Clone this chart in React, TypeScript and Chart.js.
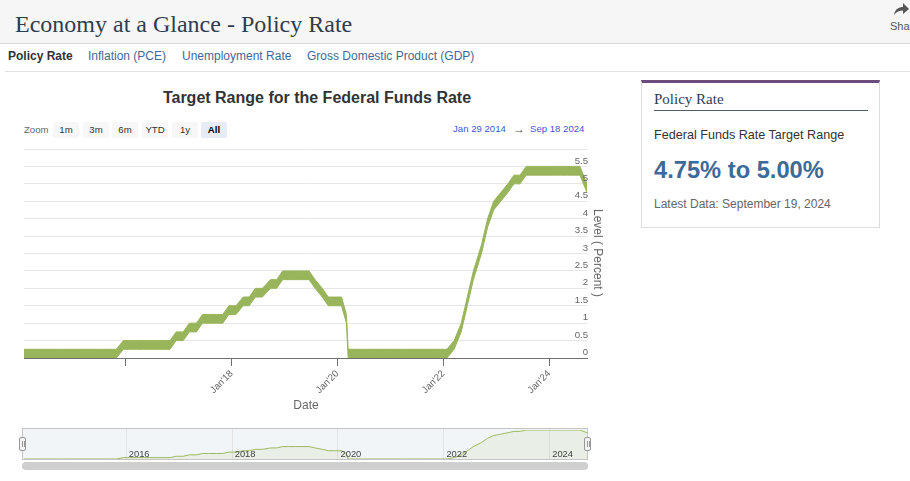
import React, { useEffect, useRef } from 'react';
import { Chart, registerables } from 'chart.js';

Chart.register(...registerables);

// FOMC decision dates shown in the chart (Jan 29 2014 -> Sep 18 2024)
const meetingDates = [
  '2014-01-29', '2014-03-19', '2014-04-30', '2014-06-18', '2014-07-30', '2014-09-17', '2014-10-29', '2014-12-17',
  '2015-01-28', '2015-03-18', '2015-04-29', '2015-06-17', '2015-07-29', '2015-09-17', '2015-10-28', '2015-12-16',
  '2016-01-27', '2016-03-16', '2016-04-27', '2016-06-15', '2016-07-27', '2016-09-21', '2016-11-02', '2016-12-14',
  '2017-02-01', '2017-03-15', '2017-05-03', '2017-06-14', '2017-07-26', '2017-09-20', '2017-11-01', '2017-12-13',
  '2018-01-31', '2018-03-21', '2018-05-02', '2018-06-13', '2018-08-01', '2018-09-26', '2018-11-08', '2018-12-19',
  '2019-01-30', '2019-03-20', '2019-05-01', '2019-06-19', '2019-07-31', '2019-09-18', '2019-10-30', '2019-12-11',
  '2020-01-29', '2020-03-03', '2020-03-15', '2020-04-29', '2020-06-10', '2020-07-29', '2020-09-16', '2020-11-05', '2020-12-16',
  '2021-01-27', '2021-03-17', '2021-04-28', '2021-06-16', '2021-07-28', '2021-09-22', '2021-11-03', '2021-12-15',
  '2022-01-26', '2022-03-16', '2022-05-04', '2022-06-15', '2022-07-27', '2022-09-21', '2022-11-02', '2022-12-14',
  '2023-02-01', '2023-03-22', '2023-05-03', '2023-06-14', '2023-07-26', '2023-09-20', '2023-11-01', '2023-12-13',
  '2024-01-31', '2024-03-20', '2024-05-01', '2024-06-12', '2024-07-31', '2024-09-18',
];

const lowerBound = [
  0, 0, 0, 0, 0, 0, 0, 0,
  0, 0, 0, 0, 0, 0, 0, 0.25,
  0.25, 0.25, 0.25, 0.25, 0.25, 0.25, 0.25, 0.5,
  0.5, 0.75, 0.75, 1, 1, 1, 1, 1.25,
  1.25, 1.5, 1.5, 1.75, 1.75, 2, 2, 2.25,
  2.25, 2.25, 2.25, 2.25, 2, 1.75, 1.5, 1.5,
  1.5, 1, 0, 0, 0, 0, 0, 0, 0,
  0, 0, 0, 0, 0, 0, 0, 0,
  0, 0.25, 0.75, 1.5, 2.25, 3, 3.75, 4.25,
  4.5, 4.75, 5, 5, 5.25, 5.25, 5.25, 5.25,
  5.25, 5.25, 5.25, 5.25, 5.25, 4.75,
];

const upperBound = [
  0.25, 0.25, 0.25, 0.25, 0.25, 0.25, 0.25, 0.25,
  0.25, 0.25, 0.25, 0.25, 0.25, 0.25, 0.25, 0.5,
  0.5, 0.5, 0.5, 0.5, 0.5, 0.5, 0.5, 0.75,
  0.75, 1, 1, 1.25, 1.25, 1.25, 1.25, 1.5,
  1.5, 1.75, 1.75, 2, 2, 2.25, 2.25, 2.5,
  2.5, 2.5, 2.5, 2.5, 2.25, 2, 1.75, 1.75,
  1.75, 1.25, 0.25, 0.25, 0.25, 0.25, 0.25, 0.25, 0.25,
  0.25, 0.25, 0.25, 0.25, 0.25, 0.25, 0.25, 0.25,
  0.25, 0.5, 1, 1.75, 2.5, 3.25, 4, 4.5,
  4.75, 5, 5.25, 5.25, 5.5, 5.5, 5.5, 5.5,
  5.5, 5.5, 5.5, 5.5, 5.5, 5,
];

const rangeStart = '2014-01-29';
const rangeEnd = '2024-09-18';

const xTickDates = ['2016-01-01', '2018-01-01', '2020-01-01', '2022-01-01', '2024-01-01'];
const xTickLabels = ['', "Jan'18", "Jan'20", "Jan'22", "Jan'24"];
const navigatorLabels = ['2016', '2018', '2020', '2022', '2024'];

const yGridValues = [0, 0.5, 1, 1.5, 2, 2.5, 3, 3.5, 4, 4.5, 5, 5.5, 6];
const yTickValues = [0, 0.5, 1, 1.5, 2, 2.5, 3, 3.5, 4, 4.5, 5, 5.5];
const yTickLabels = ['0', '0.5', '1', '1.5', '2', '2.5', '3', '3.5', '4', '4.5', '5', '5.5'];

const zoomButtons = ['1m', '3m', '6m', 'YTD', '1y', 'All'];
const tabs = ['Policy Rate', 'Inflation (PCE)', 'Unemployment Rate', 'Gross Domestic Product (GDP)'];

const SANS = '"Liberation Sans", Arial, sans-serif';
const SERIF = '"Liberation Serif", "Times New Roman", serif';
const GREEN = '#99b55b';

const toMs = (s: string) => {
  const [y, m, d] = s.split('-').map(Number);
  return Date.UTC(y, m - 1, d);
};

const yLabelPlugin = {
  id: 'yLabels',
  afterDatasetsDraw(chart: any) {
    const { ctx, chartArea, scales } = chart;
    const y = scales.y;
    ctx.save();
    ctx.font = `9.6px ${SANS}`;
    ctx.fillStyle = '#666666';
    ctx.textAlign = 'right';
    ctx.textBaseline = 'middle';
    yTickValues.forEach((v, i) => {
      ctx.fillText(yTickLabels[i], chartArea.right + 1, y.getPixelForValue(v) - 5.5);
    });
    ctx.restore();
  },
};

const navPlugin = {
  id: 'navGrid',
  beforeDatasetsDraw(chart: any) {
    const { ctx, scales, height } = chart;
    const x = scales.x;
    ctx.save();
    ctx.strokeStyle = '#e3e3e3';
    ctx.lineWidth = 1;
    xTickDates.forEach((d) => {
      const px = Math.round(x.getPixelForValue(toMs(d))) + 0.5;
      ctx.beginPath();
      ctx.moveTo(px, 1);
      ctx.lineTo(px, height - 1);
      ctx.stroke();
    });
    ctx.restore();
  },
  afterDatasetsDraw(chart: any) {
    const { ctx, scales } = chart;
    const x = scales.x;
    ctx.save();
    ctx.font = `9.4px ${SANS}`;
    ctx.fillStyle = '#444444';
    ctx.textAlign = 'left';
    ctx.textBaseline = 'alphabetic';
    xTickDates.forEach((d, i) => {
      ctx.fillText(navigatorLabels[i], x.getPixelForValue(toMs(d)) + 3, 29);
    });
    ctx.restore();
  },
};

export default function App() {
  const mainRef = useRef<HTMLCanvasElement | null>(null);
  const navRef = useRef<HTMLCanvasElement | null>(null);

  useEffect(() => {
    const lowerPts = meetingDates.map((d, i) => ({ x: toMs(d), y: lowerBound[i] }));
    const upperPts = meetingDates.map((d, i) => ({ x: toMs(d), y: upperBound[i] }));
    const xMin = toMs(rangeStart);
    const xMax = toMs(rangeEnd);

    const main = new Chart(mainRef.current as HTMLCanvasElement, {
      type: 'line',
      data: {
        datasets: [
          { data: lowerPts, borderColor: GREEN, borderWidth: 1, pointRadius: 0, fill: false, tension: 0 },
          { data: upperPts, borderColor: GREEN, backgroundColor: GREEN, borderWidth: 1, pointRadius: 0, fill: '-1', tension: 0 },
        ],
      },
      options: {
        animation: false,
        responsive: false,
        events: [],
        layout: { padding: { left: 24, right: 33, top: 9, bottom: 0 } },
        plugins: { legend: { display: false }, tooltip: { enabled: false }, title: { display: false } },
        scales: {
          x: {
            type: 'linear',
            min: xMin,
            max: xMax,
            afterBuildTicks: (s: any) => {
              s.ticks = xTickDates.map((d) => ({ value: toMs(d) }));
            },
            afterFit: (s: any) => {
              s.height = 62;
            },
            ticks: {
              autoSkip: false,
              minRotation: 45,
              maxRotation: 45,
              padding: 2,
              color: '#666666',
              font: { family: SANS, size: 9.6 },
              callback: (_v: any, i: number) => xTickLabels[i],
            },
            grid: { drawOnChartArea: false, drawTicks: true, tickLength: 8, color: '#707070' },
            border: { display: true, color: '#707070' },
          },
          y: {
            type: 'linear',
            position: 'right',
            min: 0,
            max: 6,
            afterBuildTicks: (s: any) => {
              s.ticks = yGridValues.map((v) => ({ value: v }));
            },
            ticks: { display: false },
            grid: {
              drawTicks: false,
              color: (c: any) => (c.tick && c.tick.value === 0 ? 'rgba(0,0,0,0)' : '#e6e6e6'),
            },
            border: { display: false },
          },
        },
      },
      plugins: [yLabelPlugin],
    });

    const nav = new Chart(navRef.current as HTMLCanvasElement, {
      type: 'line',
      data: {
        datasets: [
          {
            data: upperPts,
            borderColor: '#9dba62',
            backgroundColor: 'rgba(153,181,91,0.10)',
            borderWidth: 1,
            pointRadius: 0,
            fill: 'start',
            tension: 0,
          },
        ],
      },
      options: {
        animation: false,
        responsive: false,
        events: [],
        layout: { padding: { left: 24, right: 33, top: 2, bottom: 1 } },
        plugins: { legend: { display: false }, tooltip: { enabled: false } },
        scales: {
          x: { type: 'linear', display: false, min: xMin, max: xMax },
          y: { type: 'linear', display: false, min: 0.25, max: 5.5 },
        },
      },
      plugins: [navPlugin],
    });

    return () => {
      main.destroy();
      nav.destroy();
    };
  }, []);

  const abs = (s: any): any => ({ position: 'absolute', whiteSpace: 'nowrap', ...s });
  const tabX = [8, 88, 182, 307];
  const btnX = [53, 83, 112, 142, 172, 201];

  return (
    <div style={{ position: 'absolute', left: 0, top: 0, width: 910, height: 481, overflow: 'hidden', background: '#ffffff', fontFamily: SANS }}>
      {/* header */}
      <div style={abs({ left: 0, top: 0, width: 910, height: 43, background: '#f6f6f6', borderBottom: '1px solid #d9d9d9' })} />
      <div style={abs({ left: 15, top: 12, fontFamily: SERIF, fontSize: 24, lineHeight: '24px', color: '#2e3d4f' })}>
        Economy at a Glance - Policy Rate
      </div>
      <svg style={{ position: 'absolute', left: 893, top: 2 }} width="16" height="14" viewBox="0 0 16 14">
        <path d="M1 13 C2 7 6 5 10 5 L10 1 L16 7 L10 12 L10 8.5 C6 8.5 3 10 1 13 Z" fill="#555" />
      </svg>
      <div style={abs({ left: 890, top: 20, fontSize: 11, lineHeight: '12px', color: '#555' })}>Share</div>

      {/* tabs */}
      {tabs.map((t, i) => (
        <div
          key={t}
          style={abs({
            left: tabX[i],
            top: 50,
            fontSize: 12,
            lineHeight: '12px',
            fontWeight: i === 0 ? 'bold' : 'normal',
            color: i === 0 ? '#333333' : '#3f6a96',
          })}
        >
          {t}
        </div>
      ))}
      <div style={abs({ left: 5, top: 71, width: 905, height: 1, background: '#e2e2e2' })} />

      {/* chart title */}
      <div style={abs({ left: 0, top: 90, width: 634, textAlign: 'center', fontSize: 16, lineHeight: '16px', fontWeight: 'bold', color: '#333333' })}>
        Target Range for the Federal Funds Rate
      </div>

      {/* range selector */}
      <div style={abs({ left: 24, top: 125, fontSize: 9.6, lineHeight: '10px', color: '#666666' })}>Zoom</div>
      {zoomButtons.map((b, i) => (
        <div
          key={b}
          style={abs({
            left: btnX[i],
            top: 122,
            width: 26,
            height: 16,
            background: i === 5 ? '#e6ebf5' : '#f7f7f7',
            borderRadius: 2,
            fontSize: 9.6,
            lineHeight: '16px',
            textAlign: 'center',
            color: i === 5 ? '#000000' : '#333333',
            fontWeight: i === 5 ? 'bold' : 'normal',
          })}
        >
          {b}
        </div>
      ))}
      <div style={abs({ left: 453, top: 124, fontSize: 9.6, lineHeight: '10px', color: '#4257d4' })}>Jan 29 2014</div>
      <div style={abs({ left: 513, top: 122, fontSize: 12, lineHeight: '14px', color: '#555555' })}>→</div>
      <div style={abs({ left: 530, top: 124, fontSize: 9.6, lineHeight: '10px', color: '#4257d4' })}>Sep 18 2024</div>

      {/* main chart */}
      <canvas ref={mainRef} width={620} height={280} style={{ position: 'absolute', left: 0, top: 140, width: 620, height: 280 }} />
      <div style={abs({ left: 598, top: 253, fontSize: 12, lineHeight: '12px', color: '#666666', transform: 'translate(-50%, -50%) rotate(90deg)' })}>
        Level ( Percent )
      </div>
      <div style={abs({ left: 256, top: 399, width: 100, textAlign: 'center', fontSize: 12, lineHeight: '12px', color: '#666666' })}>Date</div>

      {/* navigator */}
      <div style={abs({ left: 22, top: 428, width: 566, height: 32, boxSizing: 'border-box', background: '#f2f5f8', border: '1px solid #c4c4c4' })} />
      <canvas ref={navRef} width={620} height={32} style={{ position: 'absolute', left: 0, top: 428, width: 620, height: 32 }} />
      {[19, 584].map((hx) => (
        <div key={hx} style={abs({ left: hx, top: 437, width: 7, height: 14, boxSizing: 'border-box', background: '#f2f2f2', border: '1px solid #999999', borderRadius: 2 })}>
          <div style={abs({ left: 1.5, top: 3, width: 1, height: 6, background: '#999' })} />
          <div style={abs({ left: 3.5, top: 3, width: 1, height: 6, background: '#999' })} />
        </div>
      ))}
      <div style={abs({ left: 22, top: 462, width: 566, height: 8, background: '#cfcfcf', borderRadius: 4 })} />

      {/* right panel */}
      <div style={abs({ left: 641, top: 80, width: 239, height: 148, boxSizing: 'border-box', border: '1px solid #dddddd', borderTop: '3px solid #6d4c7d', background: '#fff' })} />
      <div style={abs({ left: 654, top: 92, fontFamily: SERIF, fontSize: 15, lineHeight: '15px', color: '#2e3d52' })}>Policy Rate</div>
      <div style={abs({ left: 654, top: 110, width: 214, height: 1, background: '#4d5d6c' })} />
      <div style={abs({ left: 654, top: 129, fontSize: 12.6, lineHeight: '13px', color: '#333333' })}>Federal Funds Rate Target Range</div>
      <div style={abs({ left: 654, top: 158, fontSize: 23.7, lineHeight: '24px', fontWeight: 'bold', color: '#3e6a97' })}>4.75% to 5.00%</div>
      <div style={abs({ left: 654, top: 198, fontSize: 12, lineHeight: '12px', color: '#666666' })}>Latest Data: September 19, 2024</div>
    </div>
  );
}
